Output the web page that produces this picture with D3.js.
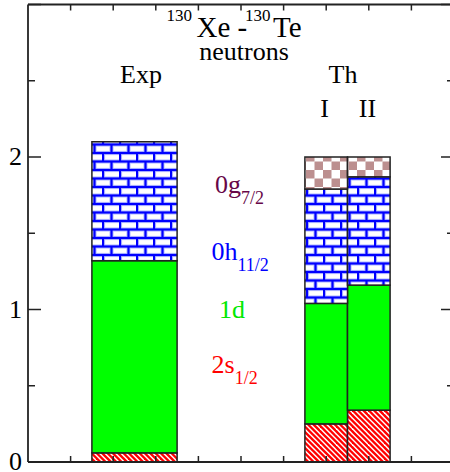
<!DOCTYPE html>
<html>
<head>
<meta charset="utf-8">
<script src="https://cdn.jsdelivr.net/npm/d3@7"></script>
<style>
  html, body { margin: 0; padding: 0; background: #fff; }
  svg { display: block; font-family: "Liberation Serif", "Times New Roman", serif; }
</style>
</head>
<body>
<svg id="chart" width="450" height="472"></svg>
<script>
// bars: Exp, Th I, Th II (x extents in axis units)
const bars = ["Exp", "I", "II"];
const barX0 = [1.5, 6.5, 7.5];
const barX1 = [3.5, 7.5, 8.5];

// occupancies per orbit, stacked bottom to top
const orbits = ["2s", "1d", "0h", "0g"];
const s12 = [0.06, 0.25, 0.34];
const d = [1.26, 0.79, 0.82];
const h112 = [0.78, 0.75, 0.71];
const g72 = [0.0, 0.21, 0.13];

const yMajor = [0, 1, 2, 3];
const yMinor = [0.5, 1.5, 2.5];
const yLabels = [0, 1, 2];
const xTicks = [1, 2, 3, 4, 5, 6, 7, 8, 9];

const svg = d3.select("#chart");

const x = d3.scaleLinear().domain([0, 10]).range([28, 454]);
const y = d3.scaleLinear().domain([0, 3]).range([462, 4.5]);

const defs = svg.append("defs");

// red diagonal stripes
const stripes = defs.append("pattern")
  .attr("id", "stripes")
  .attr("patternUnits", "userSpaceOnUse")
  .attr("width", 16).attr("height", 16);
stripes.append("rect").attr("width", 16).attr("height", 16).attr("fill", "#fff");
d3.range(-6, 4).forEach((k) => {
  const x0 = (k * 16) / 3;
  stripes.append("line")
    .attr("x1", x0).attr("y1", -1)
    .attr("x2", x0 + 18).attr("y2", 17)
    .attr("stroke", "#ff0000")
    .attr("stroke-width", 2.3);
});

// blue bricks
const bw = 17, bh = 17;
const bricks = defs.append("pattern")
  .attr("id", "bricks")
  .attr("patternUnits", "userSpaceOnUse")
  .attr("width", bw).attr("height", bh);
bricks.append("rect").attr("width", bw).attr("height", bh).attr("fill", "#fff");
const brickLines = [
  [0, 0, bw, 0], [0, bh / 2, bw, bh / 2], [0, bh, bw, bh],
  [1, 0, 1, bh / 2], [1 + bw / 2, bh / 2, 1 + bw / 2, bh]
];
[["#b8c0ff", 4.2], ["#0000ff", 2.2]].forEach(([c, w]) => {
  brickLines.forEach((l) => {
    bricks.append("line")
      .attr("x1", l[0]).attr("y1", l[1]).attr("x2", l[2]).attr("y2", l[3])
      .attr("stroke", c).attr("stroke-width", w);
  });
});

// brown checkers
const checker = defs.append("pattern")
  .attr("id", "checker")
  .attr("patternUnits", "userSpaceOnUse")
  .attr("width", 17).attr("height", 17);
checker.append("rect").attr("width", 17).attr("height", 17).attr("fill", "#fff");
[[0, 0], [8.5, 8.5]].forEach(([cx, cy]) => {
  checker.append("rect")
    .attr("x", cx).attr("y", cy).attr("width", 8.5).attr("height", 8.5)
    .attr("fill", "#bc8f8f");
});

const fills = { "2s": "url(#stripes)", "1d": "#00ff00", "0h": "url(#bricks)", "0g": "url(#checker)" };

const table = bars.map((b, i) => ({
  bar: b, x0: barX0[i], x1: barX1[i],
  "2s": s12[i], "1d": d[i], "0h": h112[i], "0g": g72[i]
}));

const stacked = d3.stack().keys(orbits)(table);

svg.append("g")
  .selectAll("g")
  .data(stacked)
  .enter()
  .append("g")
  .attr("fill", (s) => fills[s.key])
  .selectAll("rect")
  .data((s) => s.filter((p) => p[1] - p[0] > 0))
  .enter()
  .append("rect")
  .attr("x", (p) => x(p.data.x0))
  .attr("width", (p) => x(p.data.x1) - x(p.data.x0))
  .attr("y", (p) => y(p[1]))
  .attr("height", (p) => y(p[0]) - y(p[1]))
  .attr("stroke", "#222")
  .attr("stroke-width", 1.5);

// frame
const frame = svg.append("g").attr("stroke", "#222").attr("stroke-width", 1.8);
frame.append("line").attr("x1", x(0)).attr("x2", x(0)).attr("y1", y(0)).attr("y2", y(3));
frame.append("line").attr("x1", x(0)).attr("x2", x(10)).attr("y1", y(0)).attr("y2", y(0));
frame.append("line").attr("x1", x(0)).attr("x2", x(10)).attr("y1", y(3)).attr("y2", y(3));
frame.append("line").attr("x1", x(10)).attr("x2", x(10)).attr("y1", y(0)).attr("y2", y(3));

const ticks = svg.append("g").attr("stroke", "#222").attr("stroke-width", 1.5);
const yTick = (vals, len) => {
  vals.forEach((v) => {
    ticks.append("line").attr("x1", x(0)).attr("x2", x(0) + len).attr("y1", y(v)).attr("y2", y(v));
    ticks.append("line").attr("x1", x(10)).attr("x2", x(10) - len).attr("y1", y(v)).attr("y2", y(v));
  });
};
yTick(yMajor, 13);
yTick(yMinor, 7);
xTicks.forEach((v) => {
  ticks.append("line").attr("x1", x(v)).attr("x2", x(v)).attr("y1", y(0)).attr("y2", y(0) - 6);
  ticks.append("line").attr("x1", x(v)).attr("x2", x(v)).attr("y1", y(3)).attr("y2", y(3) + 6);
});

svg.append("g")
  .selectAll("text")
  .data(yLabels)
  .enter()
  .append("text")
  .attr("x", 22)
  .attr("y", (v) => y(v) + 8)
  .attr("text-anchor", "end")
  .attr("font-size", 26)
  .text((v) => v);

// title pieces
[["130", 17, 166.5, 21], ["Xe -", 29, 196.5, 37], ["130", 17, 245, 21], ["Te", 29, 273, 37]]
  .forEach(([t, fs, lx, by]) => {
    svg.append("text").attr("x", lx).attr("y", by).attr("font-size", fs).text(t);
  });

const label = (t, cx, by) =>
  svg.append("text").attr("x", cx).attr("y", by)
    .attr("text-anchor", "middle").attr("font-size", 26).text(t);
label("neutrons", 244, 60);
label("Exp", 141, 83);
label("Th", 343, 83);
label("I", 324.5, 117);
label("II", 367.5, 117);

// orbit labels
const orbitLabel = (main, sub, lx, by, color) => {
  const t = svg.append("text").attr("x", lx).attr("y", by)
    .attr("font-size", 26).attr("fill", color);
  t.append("tspan").text(main);
  if (sub) t.append("tspan").attr("font-size", 18).attr("dy", 11).text(sub);
};
orbitLabel("0g", "7/2", 215, 193, "#670748");
orbitLabel("0h", "11/2", 211.5, 260, "#0000ff");
orbitLabel("1d", null, 219, 318, "#00e800");
orbitLabel("2s", "1/2", 211.5, 373, "#ff0000");
</script>
</body>
</html>
